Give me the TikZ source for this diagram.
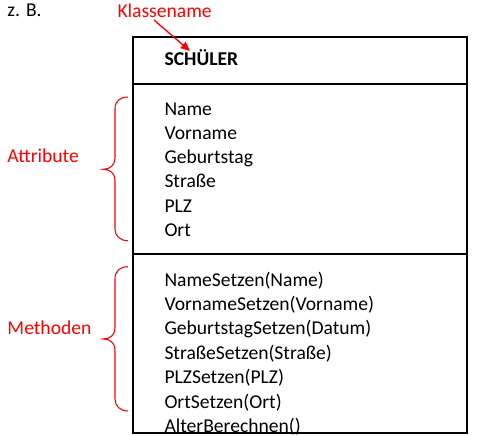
\documentclass[tikz,border=0pt]{standalone}
\usepackage{fontspec}
\setmainfont{Carlito}
\usetikzlibrary{arrows.meta}
\definecolor{lblred}{RGB}{255,0,0}
\begin{document}
\begin{tikzpicture}[x=0.75pt,y=-0.75pt,
  every node/.style={inner sep=0pt,outer sep=0pt,anchor=base west,font=\fontsize{14.7}{17}\selectfont},
  member/.style={text=black},
  redlbl/.style={text=lblred},
  boxline/.style={draw=black,line width=1pt},
  bracestyle/.style={draw=lblred,line width=0.8pt},
  arrowstyle/.style={draw=lblred,line width=1pt,-{Triangle[length=7pt,width=6pt]}}]
\useasboundingbox (0,0) rectangle (480,436);
% class box
\draw[boxline] (133,37) rectangle (467,433);
\draw[boxline] (133,84) -- (467,84);
\draw[boxline] (133,254) -- (467,254);
% header
\node (zb) at (7.5,16.7) {z. B.};
\node[redlbl] (klasse) at (117.5,17.3) {Klassename};
\node[member,font=\fontsize{14.7}{17}\selectfont\bfseries] (schueler) at (164.5,65.7) {SCHÜLER};
\coordinate (arrstart) at (154,20);
\coordinate (arrtip) at (190,51);
\draw[arrowstyle] (arrstart) -- (arrtip);
% attributes
\node[member] (a1) at (164.5,115) {Name};
\node[member] (a2) at (164.5,139.3) {Vorname};
\node[member] (a3) at (164.5,163.6) {Geburtstag};
\node[member] (a4) at (164.5,187.9) {Straße};
\node[member] (a5) at (164.5,212.2) {PLZ};
\node[member] (a6) at (164.5,236.5) {Ort};
% methods
\node[member] (m1) at (164.5,286) {NameSetzen(Name)};
\node[member] (m2) at (164.5,310.4) {VornameSetzen(Vorname)};
\node[member] (m3) at (164.5,334.8) {GeburtstagSetzen(Datum)};
\node[member] (m4) at (164.5,359.2) {StraßeSetzen(Straße)};
\node[member] (m5) at (164.5,383.6) {PLZSetzen(PLZ)};
\node[member] (m6) at (164.5,408) {OrtSetzen(Ort)};
\node[member] (m7) at (164.5,432.4) {AlterBerechnen()};
% labels
\node[redlbl] (attr) at (7.5,162.7) {Attribute};
\node[redlbl] (meth) at (7.5,334) {Methoden};
% braces
\draw[bracestyle] (128,97) .. controls (120,97) and (115,101) .. (115,109) -- (115,158)
  .. controls (115,165) and (110,169.3) .. (103,169.3)
  .. controls (110,169.3) and (115,173.5) .. (115,180) -- (115,229)
  .. controls (115,236) and (120,240.7) .. (128,240.7);
\draw[bracestyle] (128,266.7) .. controls (120,266.7) and (115,271) .. (115,279) -- (115,328)
  .. controls (115,335) and (110,339) .. (103,339)
  .. controls (110,339) and (115,343) .. (115,350) -- (115,399)
  .. controls (115,406) and (120,411) .. (128,411);
\end{tikzpicture}
\end{document}
